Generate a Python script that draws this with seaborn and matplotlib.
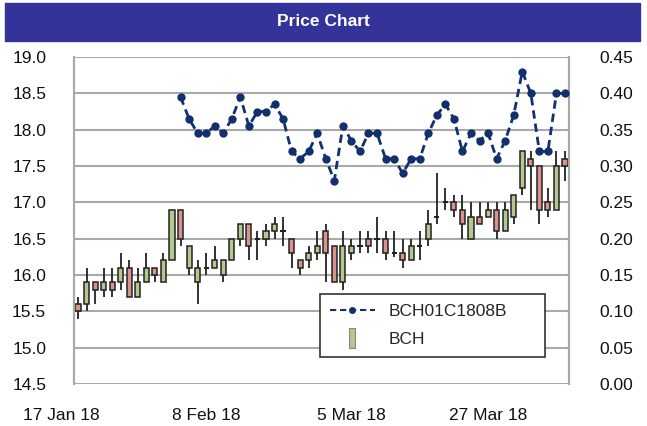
import matplotlib
matplotlib.use("Agg")
import matplotlib.pyplot as plt
import matplotlib.transforms as mtransforms
from matplotlib.lines import Line2D
from matplotlib.patches import Rectangle
import seaborn as sns
import pandas as pd
import numpy as np

# trading days shown on the chart (ASX holidays skipped)
dates = pd.bdate_range("2018-01-17", "2018-04-11", freq="C",
                       holidays=["2018-01-26", "2018-03-30", "2018-04-02"])
tick_dates = ["2018-01-17", "2018-02-08", "2018-03-05", "2018-03-27"]

# BCH daily candles
bch_open = [15.6, 15.6, 15.9, 15.8, 15.9, 15.9, 16.1, 15.7, 15.9, 16.1,
            15.9, 16.2, 16.9, 16.1, 15.9, 16.1, 16.1, 16.0, 16.2, 16.5,
            16.7, 16.5, 16.5, 16.6, 16.6, 16.5, 16.2, 16.2, 16.3, 16.6,
            16.4, 15.9, 16.3, 16.4, 16.5, 16.5, 16.5, 16.3, 16.3, 16.2,
            16.4, 16.5, 16.8, 17.0, 17.0, 16.9, 16.5, 16.8, 16.8, 16.9,
            16.6, 16.8, 17.2, 17.6, 17.5, 17.0, 16.9, 17.6]
bch_high = [15.7, 16.1, 15.9, 16.1, 16.1, 16.3, 16.2, 16.1, 16.3, 16.1,
            16.3, 16.9, 16.9, 16.4, 16.2, 16.3, 16.4, 16.2, 16.5, 16.7,
            16.7, 16.6, 16.7, 16.8, 16.8, 16.5, 16.2, 16.4, 16.6, 16.7,
            16.4, 16.6, 16.5, 16.6, 16.6, 16.8, 16.6, 16.6, 16.5, 16.5,
            16.6, 16.9, 17.4, 17.2, 17.1, 17.1, 17.0, 17.0, 17.0, 17.0,
            17.0, 17.1, 17.7, 17.7, 17.5, 17.2, 17.7, 17.7]
bch_low = [15.4, 15.5, 15.6, 15.7, 15.7, 15.8, 15.7, 15.7, 15.9, 15.9,
           15.9, 16.2, 16.4, 16.0, 15.6, 16.0, 16.1, 15.9, 16.2, 16.4,
           16.2, 16.2, 16.4, 16.5, 16.4, 16.1, 16.0, 16.1, 16.2, 15.9,
           15.9, 15.8, 16.2, 16.3, 16.3, 16.3, 16.2, 16.25, 16.1, 16.2,
           16.2, 16.4, 16.7, 16.9, 16.8, 16.5, 16.5, 16.7, 16.8, 16.5,
           16.6, 16.7, 17.1, 16.9, 16.7, 16.8, 16.9, 17.3]
bch_close = [15.5, 15.9, 15.8, 15.9, 15.8, 16.1, 15.7, 15.9, 16.1, 16.0,
             16.2, 16.9, 16.5, 16.4, 16.1, 16.1, 16.2, 16.2, 16.5, 16.7,
             16.4, 16.5, 16.6, 16.7, 16.6, 16.3, 16.1, 16.3, 16.4, 16.3,
             15.9, 16.4, 16.4, 16.4, 16.4, 16.5, 16.3, 16.3, 16.2, 16.4,
             16.4, 16.7, 16.8, 17.0, 16.9, 16.7, 16.8, 16.7, 16.9, 16.6,
             16.9, 17.1, 17.7, 17.5, 16.9, 16.9, 17.5, 17.5]

# option BCH01C1808B closes, first trade on day 12
opt_start = 12
opt_close = [0.395, 0.365, 0.345, 0.345, 0.355, 0.345, 0.365, 0.395, 0.355, 0.375,
             0.375, 0.385, 0.365, 0.320, 0.310, 0.320, 0.345, 0.310, 0.280, 0.355,
             0.335, 0.320, 0.345, 0.345, 0.310, 0.310, 0.290, 0.310, 0.310, 0.345,
             0.370, 0.385, 0.365, 0.320, 0.345, 0.335, 0.345, 0.310, 0.335, 0.370,
             0.430, 0.400, 0.320, 0.320, 0.400, 0.400]

up_col = "#b3c78f"
down_col = "#d9938c"
edge = "#222222"
navy = "#13306e"
grid_col = "#a9a9a9"

sns.set_style("white")
plt.rcParams["font.family"] = ["Liberation Sans", "DejaVu Sans"]

fig = plt.figure(figsize=(6.47, 4.26), dpi=100)
ax = fig.add_axes([74 / 647, 1 - 384 / 426, 495 / 647, 327 / 426])
ax2 = ax.twinx()

x = np.arange(len(dates))
o = np.array(bch_open)
h = np.array(bch_high)
l = np.array(bch_low)
c = np.array(bch_close)

# wicks then bodies
ax.vlines(x, l, h, color=edge, lw=1.3, zorder=3)
body_col = np.where(c > o, up_col, down_col)
flat = np.isclose(o, c)
bot = np.minimum(o, c)
ht = np.abs(c - o)
ax.bar(x[~flat], ht[~flat], bottom=bot[~flat], width=0.6,
       color=body_col[~flat], edgecolor=edge, linewidth=1.1, zorder=4)
ax.hlines(o[flat], x[flat] - 0.3, x[flat] + 0.3, color=edge, lw=1.5, zorder=4)

ax.set_xlim(-0.47, len(dates) - 0.53)
ax.set_ylim(14.5, 19.0)
ax.set_yticks(np.arange(14.5, 19.01, 0.5))
ax.set_yticklabels([f"{v:.1f}" for v in np.arange(14.5, 19.01, 0.5)])
ax.grid(axis="y", color=grid_col, lw=1.5)
ax.set_axisbelow(True)

tick_pos = [dates.get_loc(pd.Timestamp(d)) for d in tick_dates]
ax.set_xticks(tick_pos)
ax.set_xticklabels([f"{pd.Timestamp(d).day} {pd.Timestamp(d):%b %y}" for d in tick_dates])
ax.tick_params(axis="x", length=0, pad=17, labelsize=12.5, colors="#111111")
ax.tick_params(axis="y", length=0, pad=20, labelsize=12.5, colors="#111111")
first = ax.get_xticklabels()[0]
first.set_transform(first.get_transform() +
                    mtransforms.ScaledTranslation(-17 / 100, 0, fig.dpi_scale_trans))

# option line on the right axis
opt_df = pd.DataFrame({"day": x[opt_start:opt_start + len(opt_close)],
                       "price": opt_close})
sns.lineplot(data=opt_df, x="day", y="price", ax=ax2, color=navy,
             lw=2.0, ls=(0, (3, 1.8)), marker="o", markersize=6,
             markeredgewidth=0, zorder=5)
ax2.set_ylim(0, 0.45)
ax2.set_yticks(np.arange(0, 0.451, 0.05))
ax2.set_yticklabels([f"{v:.2f}" for v in np.arange(0, 0.451, 0.05)])
ax2.tick_params(axis="y", length=0, pad=22, labelsize=12.5, colors="#111111")
ax2.set_xlabel("")
ax2.set_ylabel("")
ax.set_xlabel("")
ax.set_ylabel("")

for a in (ax, ax2):
    for s in ("top", "bottom"):
        a.spines[s].set_visible(False)
    for s in ("left", "right"):
        a.spines[s].set_color(grid_col)
        a.spines[s].set_linewidth(1.5)

# legend
h_opt = Line2D([], [], color=navy, lw=1.5, ls=(0, (3, 1.8)), marker="o",
               markersize=5, markeredgewidth=0)
bar_marker = [(-0.18, -0.5), (0.18, -0.5), (0.18, 0.5), (-0.18, 0.5), (-0.18, -0.5)]
h_bch = Line2D([], [], ls="none", marker=bar_marker, markersize=14,
               markerfacecolor=up_col, markeredgecolor="#888888", markeredgewidth=0.8)
leg = ax2.legend([h_opt, h_bch], ["BCH01C1808B", "BCH"], loc="lower left",
                 bbox_to_anchor=(0.497, 0.083, 0.454, 0.183), mode="expand",
                 borderaxespad=0, frameon=True, fancybox=False, framealpha=1,
                 edgecolor="#333333", fontsize=12.5, handlelength=2.6,
                 handletextpad=0.8, borderpad=0.55, labelspacing=0.75)
leg.get_frame().set_linewidth(1.2)
leg.set_zorder(10)

# header bar
fig.patches.append(Rectangle((5 / 647, 1 - 41 / 426), 635 / 647, 38 / 426,
                             transform=fig.transFigure, color="#333399", zorder=0))
fig.text(0.5, 1 - 21 / 426, "Price Chart", color="white", weight="bold",
         ha="center", va="center", fontsize=12.5)

fig.savefig("out.png", dpi=100)
